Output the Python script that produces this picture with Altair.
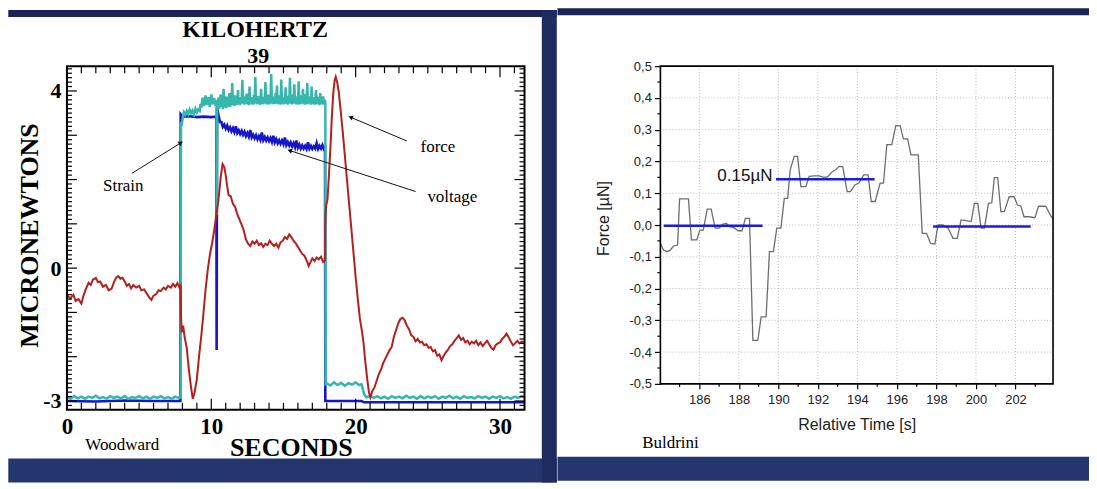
import math
import altair as alt
import pandas as pd

BG_TOP = "#1a2555"
BG_BOTTOM = "#24366e"
BG_GAP = "#1e2b60"
SERIF = "Liberation Serif"
SANS = "Liberation Sans"

# ---------------- Woodward panel (left) ----------------
force_t = [0.0, 0.25, 0.45, 0.6, 0.8, 1.0, 1.15, 1.3, 1.5, 1.65, 1.8, 2.0, 2.15, 2.3, 2.5, 2.7, 2.9, 3.1,
           3.25, 3.4, 3.55, 3.7, 3.85, 4.0, 4.15, 4.3, 4.45, 4.6, 4.8, 5.0, 5.15, 5.35, 5.5, 5.7, 5.85,
           6.0, 6.2, 6.35, 6.5, 6.7, 6.85, 7.0, 7.2, 7.35, 7.5, 7.65, 7.8, 7.88, 7.9, 7.95, 8.05, 8.15,
           8.3, 8.45, 8.6, 8.72, 8.85, 9.0, 9.15, 9.3, 9.45, 9.6, 9.75, 9.9, 10.05, 10.2, 10.35, 10.5,
           10.65, 10.78, 10.9, 11.0, 11.1, 11.2, 11.35, 11.5, 11.65, 11.8, 11.95, 12.1, 12.25, 12.4,
           12.55, 12.7, 12.85, 13.0, 13.15, 13.3, 13.45, 13.6, 13.75, 13.9, 14.05, 14.2, 14.35, 14.5,
           14.65, 14.8, 14.95, 15.1, 15.25, 15.4, 15.55, 15.7, 15.85, 16.0, 16.15, 16.3, 16.45, 16.6,
           16.75, 16.85, 17.0, 17.15, 17.3, 17.45, 17.6, 17.75, 17.88, 17.9, 17.95, 18.05, 18.15, 18.25,
           18.35, 18.45, 18.55, 18.62, 18.72, 18.82, 18.95, 19.1, 19.25, 19.4, 19.55, 19.7, 19.85, 20.0,
           20.15, 20.3, 20.45, 20.55, 20.65, 20.8, 20.92, 21.02, 21.15, 21.3, 21.45, 21.6, 21.75, 21.9,
           22.05, 22.2, 22.35, 22.5, 22.65, 22.8, 22.95, 23.1, 23.25, 23.4, 23.55, 23.7, 23.85, 24.0,
           24.15, 24.3, 24.45, 24.6, 24.75, 24.9, 25.05, 25.2, 25.35, 25.5, 25.65, 25.8, 25.95, 26.1,
           26.25, 26.4, 26.55, 26.7, 26.85, 27.0, 27.15, 27.3, 27.45, 27.6, 27.75, 27.9, 28.05, 28.2,
           28.35, 28.5, 28.65, 28.8, 28.95, 29.1, 29.25, 29.4, 29.55, 29.7, 29.85, 30.0, 30.15, 30.3,
           30.45, 30.6, 30.75, 30.9, 31.05, 31.2, 31.35, 31.5, 31.7]
force_v = [-0.62, -0.68, -0.60, -0.74, -0.70, -0.80, -0.62, -0.48, -0.33, -0.38, -0.26, -0.22, -0.32,
           -0.30, -0.42, -0.38, -0.50, -0.46, -0.32, -0.22, -0.18, -0.24, -0.22, -0.30, -0.40, -0.36,
           -0.46, -0.38, -0.44, -0.40, -0.50, -0.48, -0.56, -0.66, -0.72, -0.62, -0.58, -0.50, -0.52,
           -0.44, -0.48, -0.40, -0.44, -0.36, -0.42, -0.34, -0.44, -0.40, -1.05, -1.45, -1.30, -1.55,
           -1.80, -2.30, -2.70, -2.95, -2.80, -2.50, -2.00, -1.55, -1.05, -0.50, -0.05, 0.30, 0.55,
           0.85, 1.20, 1.55, 2.05, 2.35, 2.28, 2.10, 1.85, 1.65, 1.62, 1.45, 1.38, 1.22, 1.10, 0.98,
           0.85, 0.65, 0.55, 0.50, 0.60, 0.55, 0.62, 0.52, 0.56, 0.48, 0.55, 0.52, 0.62, 0.55, 0.50,
           0.55, 0.46, 0.58, 0.62, 0.70, 0.66, 0.76, 0.70, 0.62, 0.56, 0.48, 0.40, 0.32, 0.28, 0.18,
           0.05, 0.12, 0.22, 0.16, 0.24, 0.20, 0.26, 0.14, 0.18, 1.05, 1.40, 1.55, 2.10, 2.70, 3.40,
           3.95, 4.25, 4.32, 4.20, 4.00, 3.60, 3.10, 2.55, 2.00, 1.45, 0.90, 0.35, -0.20, -0.70, -1.15,
           -1.45, -1.70, -2.05, -2.50, -2.80, -2.92, -2.78, -2.70, -2.55, -2.40, -2.30, -2.15, -2.05,
           -1.95, -1.85, -1.78, -1.55, -1.40, -1.25, -1.15, -1.12, -1.18, -1.30, -1.38, -1.52, -1.55,
           -1.65, -1.60, -1.68, -1.66, -1.74, -1.72, -1.80, -1.78, -1.88, -1.85, -1.98, -1.95, -2.08,
           -1.98, -1.90, -1.84, -1.76, -1.72, -1.64, -1.58, -1.52, -1.62, -1.58, -1.68, -1.64, -1.72,
           -1.66, -1.70, -1.64, -1.74, -1.68, -1.76, -1.70, -1.64, -1.72, -1.80, -1.84, -1.74, -1.70,
           -1.68, -1.60, -1.55, -1.48, -1.56, -1.66, -1.74, -1.70, -1.64, -1.70, -1.66, -1.68]

# voltage (blue)
voltage_head_t = [0.0, 2.0, 4.0, 6.0, 7.86, 7.88, 8.0, 8.5, 9.0, 9.5, 10.0, 10.35, 10.37, 10.4]
voltage_head_v = [-3.0, -3.01, -2.99, -3.0, -3.0, 3.47, 3.42, 3.43, 3.41, 3.42, 3.41, 3.42, -1.85, 3.62]
voltage_decay_v = [3.45, 3.30, 3.30, 3.19, 3.24, 3.15, 3.22, 3.12, 3.18, 3.09,
                   3.16, 3.07, 3.20, 3.05, 3.11, 3.03, 3.10, 3.01, 3.08, 2.98,
                   3.05, 2.97, 3.12, 2.95, 3.01, 2.93, 3.00, 2.91, 2.98, 2.90,
                   3.06, 2.89, 2.96, 2.88, 2.95, 2.87, 2.94, 2.85, 2.99, 2.84,
                   2.91, 2.82, 2.89, 2.81, 2.88, 2.80, 2.95, 2.78, 2.85, 2.77,
                   2.84, 2.75, 2.82, 2.73, 2.88, 2.72, 2.79, 2.70, 2.77, 2.70,
                   2.76, 2.69, 2.84, 2.70, 2.76, 2.69, 2.75, 2.70, 2.82, 2.69,
                   2.76, 2.70, 2.78, 2.69]
voltage_decay_t = [round(10.5 + 0.1 * i, 2) for i in range(len(voltage_decay_v))]
voltage_tail_t = [17.88, 17.9, 20.4, 20.6, 31.7]
voltage_tail_v = [2.72, -3.0, -3.0, -3.03, -3.03]

# strain (teal): before switch-on
strain_pre_t = [0.0, 0.25, 0.5, 0.75, 1.0, 1.25, 1.5, 1.75, 2.0, 2.25, 2.5, 2.75, 3.0, 3.25, 3.5, 3.75,
                4.0, 4.25, 4.5, 4.75, 5.0, 5.25, 5.5, 5.75, 6.0, 6.25, 6.5, 6.75, 7.0, 7.25, 7.5, 7.75,
                7.88]
strain_pre_v = [-2.91, -2.95, -2.89, -2.94, -2.90, -2.95, -2.90, -2.93, -2.88, -2.94, -2.91, -2.95,
                -2.89, -2.93, -2.90, -2.94, -2.89, -2.95, -2.91, -2.93, -2.89, -2.94, -2.90, -2.95,
                -2.90, -2.93, -2.89, -2.94, -2.91, -2.95, -2.90, -2.93, -2.92]
# strain: switched on, up to the drop-out
strain_on_t = [7.9, 7.95, 8.0, 8.05, 8.1, 8.2, 8.3, 8.4, 8.5, 8.6, 8.7, 8.8, 8.9, 9.0, 9.1, 9.2, 9.25,
               9.3, 9.4, 9.5, 9.6, 9.7, 9.8, 9.9, 10.0, 10.1, 10.2, 10.3, 10.36, 10.38, 10.41]
strain_on_v = [3.30, 3.22, 3.35, 3.45, 3.52, 3.46, 3.55, 3.48, 3.58, 3.50, 3.56, 3.47, 3.60, 3.52, 3.58,
               3.55, 3.70, 3.62, 3.85, 3.66, 3.90, 3.68, 3.86, 3.64, 3.92, 3.70, 3.84, 3.66, 3.80,
               1.20, 3.60]
# strain: noisy plateau after the drop-out (sampled every 0.05 s from 10.45 s)
strain_plateau_v = [3.62, 3.85, 3.60, 3.78, 3.92, 3.64, 3.82, 3.59, 4.05, 3.66, 3.80, 3.61, 3.88, 3.63, 3.76,
                    3.65, 3.95, 3.64, 3.84, 3.67, 4.18, 3.70, 3.82, 3.66, 3.90, 3.68, 3.79, 3.69, 4.02, 3.70,
                    3.86, 3.68, 3.81, 3.71, 4.25, 3.72, 3.88, 3.69, 3.83, 3.70, 3.94, 3.71, 3.80, 3.68, 4.10,
                    3.72, 3.86, 3.70, 3.82, 3.69, 3.91, 3.71, 4.32, 3.73, 3.84, 3.70, 3.89, 3.72, 3.80, 3.69,
                    4.05, 3.71, 3.87, 3.70, 3.83, 3.72, 4.20, 3.71, 3.85, 3.69, 3.92, 3.72, 3.81, 3.70, 4.38,
                    3.73, 3.88, 3.70, 3.82, 3.71, 3.95, 3.72, 4.12, 3.70, 3.84, 3.71, 3.90, 3.69, 4.26, 3.72,
                    3.86, 3.70, 3.81, 3.72, 4.08, 3.71, 3.89, 3.69, 3.83, 3.72, 4.30, 3.71, 3.86, 3.70, 3.92,
                    3.71, 4.15, 3.72, 3.84, 3.70, 3.88, 3.69, 4.22, 3.71, 3.82, 3.70, 3.90, 3.72, 4.05, 3.70,
                    3.85, 3.69, 3.93, 3.71, 4.18, 3.70, 3.83, 3.72, 3.88, 3.69, 4.10, 3.71, 3.86, 3.70, 3.82,
                    3.69, 4.02, 3.71, 3.87, 3.70, 3.84, 3.68, 3.95, 3.71, 3.82, 3.70, 3.88, 3.69, 3.80]
strain_plateau_t = [round(10.45 + 0.05 * i, 2) for i in range(len(strain_plateau_v))]
# strain: after switch-off
strain_post_t = [17.9, 17.92, 18.0, 18.25, 18.5, 18.75, 19.0, 19.25, 19.5, 19.75, 20.0, 20.25, 20.4,
                 20.6, 20.75, 21.0, 21.25, 21.5, 21.75, 22.0, 22.25, 22.5, 22.75, 23.0, 23.25, 23.5,
                 23.75, 24.0, 24.25, 24.5, 24.75, 25.0, 25.25, 25.5, 25.75, 26.0, 26.25, 26.5, 26.75,
                 27.0, 27.25, 27.5, 27.75, 28.0, 28.25, 28.5, 28.75, 29.0, 29.25, 29.5, 29.75, 30.0,
                 30.25, 30.5, 30.75, 31.0, 31.25, 31.5, 31.7]
strain_post_v = [3.75, -2.62, -2.60, -2.65, -2.58, -2.64, -2.59, -2.66, -2.60, -2.63, -2.58, -2.64,
                 -2.62, -2.85, -2.92, -2.88, -2.93, -2.89, -2.94, -2.90, -2.95, -2.89, -2.93, -2.90,
                 -2.94, -2.88, -2.93, -2.90, -2.95, -2.89, -2.94, -2.90, -2.93, -2.89, -2.95, -2.90,
                 -2.93, -2.88, -2.94, -2.90, -2.95, -2.89, -2.93, -2.91, -2.94, -2.89, -2.93, -2.90,
                 -2.95, -2.90, -2.93, -2.89, -2.94, -2.91, -2.95, -2.90, -2.93, -2.89, -2.92]

left_xticks = [0, 10, 20, 30]
left_yticks = [-3, 0, 4]

ann_text = ["Strain", "force", "voltage"]
ann_t = [3.9, 25.7, 26.7]
ann_v = [1.85, 2.74, 1.61]
arrow_t0 = [4.5, 23.55, 24.15]
arrow_v0 = [2.14, 2.87, 1.73]
arrow_t1 = [7.85, 19.7, 15.48]
arrow_v1 = [2.82, 3.40, 2.65]

# ---------------- Buldrini panel (right) ----------------
bul_t = [184.03, 184.19, 184.36, 184.53, 184.69, 184.9, 185.0, 185.45, 185.6, 185.87, 186.03, 186.2,
         186.4, 186.6, 186.8, 187.0, 187.2, 187.37, 187.54, 187.79, 187.96, 188.16, 188.33, 188.54,
         188.71, 188.96, 189.13, 189.38, 189.55, 189.75, 189.92, 190.13, 190.3, 190.47, 190.6, 190.8,
         190.97, 191.14, 191.39, 191.56, 191.81, 192.06, 192.26, 192.48, 192.73, 192.9, 193.06,
         193.26, 193.48, 193.65, 193.87, 194.07, 194.32, 194.54, 194.7, 194.9, 195.15, 195.32,
         195.49, 195.74, 195.94, 196.16, 196.33, 196.54, 196.71, 197.08, 197.28, 197.5, 197.7,
         197.92, 198.08, 198.33, 198.59, 198.84, 199.05, 199.25, 199.5, 199.76, 199.92, 200.09,
         200.26, 200.43, 200.63, 200.8, 200.93, 201.1, 201.26, 201.43, 201.68, 201.93, 202.1,
         202.27, 202.43, 202.68, 202.98, 203.17, 203.53, 203.79, 203.9]
bul_v = [-0.058, -0.079, -0.084, -0.079, -0.066, -0.063, 0.082, 0.082, -0.047, -0.047, -0.016, -0.016,
         0.05, 0.05, -0.01, -0.01, 0.003, 0.005, -0.005, -0.01, -0.018, -0.018, 0.021, 0.021, -0.363,
         -0.363, -0.289, -0.289, -0.084, -0.084, -0.01, -0.01, 0.084, 0.084, 0.174, 0.216, 0.216,
         0.121, 0.121, 0.153, 0.155, 0.155, 0.151, 0.151, 0.168, 0.174, 0.184, 0.184, 0.105, 0.105,
         0.126, 0.132, 0.158, 0.158, 0.074, 0.074, 0.132, 0.132, 0.253, 0.253, 0.313, 0.313, 0.271,
         0.271, 0.221, 0.221, -0.026, -0.026, -0.058, -0.06, 0.0, 0.0, -0.01, -0.042, -0.042, 0.016,
         0.014, 0.011, 0.068, 0.068, -0.01, -0.01, 0.068, 0.07, 0.149, 0.149, 0.042, 0.042, 0.089,
         0.089, 0.063, 0.06, 0.026, 0.026, 0.023, 0.059, 0.059, 0.028, 0.02]
mean_t0 = [184.2, 189.88, 197.83]
mean_t1 = [189.2, 194.87, 202.77]
mean_v = [-0.002, 0.144, -0.005]
mean_label = "0.15µN"
mean_label_t = 189.7
mean_label_v = 0.155
right_xticks = [186, 188, 190, 192, 194, 196, 198, 200, 202]
right_yticks = [-0.5, -0.4, -0.3, -0.2, -0.1, 0.0, 0.1, 0.2, 0.3, 0.4, 0.5]

one = pd.DataFrame({"a": [0]})


def band(x0, x1, y0, y1, color):
    return alt.Chart(one).mark_rect(color=color).encode(
        x=alt.value(x0), x2=alt.value(x1), y=alt.value(y0), y2=alt.value(y1))


# ======================= left chart =======================
LW, LH = 458, 344
LX = [0, 31.7]
LY = [-3.2, 4.56]
xs = alt.Scale(domain=LX, nice=False, zero=False)
ys = alt.Scale(domain=LY, nice=False, zero=False)

x_axis_l = alt.Axis(values=left_xticks, format="d", title="SECONDS", labelFont=SERIF, labelFontSize=23,
                    labelFontWeight="bold", labelColor="black", labelPadding=6, labelFlush=False,
                    labelOverlap=False, ticks=False, domain=False, grid=False, titleFont=SERIF,
                    titleFontSize=26, titleFontWeight="bold", titleColor="black", titleX=224, titleY=38,
                    titleBaseline="middle")
y_axis_l = alt.Axis(values=left_yticks, labelExpr="toString(datum.value)", title="MICRONEWTONS",
                    labelFont=SERIF, labelFontSize=22, labelFontWeight="bold", labelColor="black",
                    labelPadding=6, labelOverlap=False, ticks=False, domain=False, grid=False,
                    titleFont=SERIF, titleFontSize=26, titleFontWeight="bold", titleColor="black",
                    titleAngle=270, titleX=-37, titleY=169, titleAlign="center", titleBaseline="middle")


def LXe(field):
    return alt.X(field, scale=xs, axis=x_axis_l)


def LYe(field):
    return alt.Y(field, scale=ys, axis=y_axis_l)


df_volt = pd.DataFrame({"t": voltage_head_t + voltage_decay_t + voltage_tail_t,
                        "v": voltage_head_v + voltage_decay_v + voltage_tail_v})
df_strain = pd.DataFrame({"t": strain_pre_t + strain_on_t + strain_plateau_t + strain_post_t,
                          "v": strain_pre_v + strain_on_v + strain_plateau_v + strain_post_v})
df_force = pd.DataFrame({"t": force_t, "v": force_v})

volt = alt.Chart(df_volt).mark_line(color="#1616c8", strokeWidth=2.6).encode(x=LXe("t:Q"), y=LYe("v:Q"))
strain = alt.Chart(df_strain).mark_line(color="#36b6ad", strokeWidth=2.5).encode(x=LXe("t:Q"), y=LYe("v:Q"))
force = alt.Chart(df_force).mark_line(color="#b3201f", strokeWidth=2).encode(x=LXe("t:Q"), y=LYe("v:Q"))

# inner tick marks
sec_minor = pd.DataFrame({"t": [s for s in range(1, 32) if s % 10 != 0]})
sec_major = pd.DataFrame({"t": [10, 20, 30]})
yv = [round(-3.1 + 0.1 * i, 1) for i in range(77)]
val_minor = pd.DataFrame({"v": [v for v in yv if abs(v - round(v)) > 1e-6]})
val_major = pd.DataFrame({"v": [-3, -2, -1, 0, 1, 2, 3, 4]})


def xticks(df, ln):
    b = alt.Chart(df).mark_rule(color="black", strokeWidth=1.2).encode(
        x=LXe("t:Q"), y=alt.value(LH), y2=alt.value(LH - ln))
    t = alt.Chart(df).mark_rule(color="black", strokeWidth=1.2).encode(
        x=LXe("t:Q"), y=alt.value(0), y2=alt.value(ln))
    return [b, t]


def yticks(df, ln):
    l = alt.Chart(df).mark_rule(color="black", strokeWidth=1.2).encode(
        y=LYe("v:Q"), x=alt.value(0), x2=alt.value(ln))
    r = alt.Chart(df).mark_rule(color="black", strokeWidth=1.2).encode(
        y=LYe("v:Q"), x=alt.value(LW), x2=alt.value(LW - ln))
    return [l, r]


tick_layers = xticks(sec_minor, 7) + xticks(sec_major, 11) + yticks(val_minor, 5) + yticks(val_major, 10)

# annotations
pxx = LW / (LX[1] - LX[0])
pxy = LH / (LY[1] - LY[0])
angles = []
for a0, b0, a1, b1 in zip(arrow_t0, arrow_v0, arrow_t1, arrow_v1):
    dx = (a1 - a0) * pxx
    dy = -(b1 - b0) * pxy
    angles.append((math.degrees(math.atan2(dx, -dy)) + 360) % 360)
df_arrow = pd.DataFrame({"t": arrow_t0, "v": arrow_v0, "t1": arrow_t1, "v1": arrow_v1, "ang": angles})
df_head = pd.DataFrame({"t": arrow_t1, "v": arrow_v1, "ang": angles})
df_ann = pd.DataFrame({"t": ann_t, "v": ann_v, "label": ann_text})

arrows = alt.Chart(df_arrow).mark_rule(color="#111", strokeWidth=1).encode(
    x=LXe("t:Q"), y=LYe("v:Q"), x2="t1:Q", y2="v1:Q")
heads = alt.Chart(df_head).mark_point(shape="triangle", filled=True, color="#111", size=28, opacity=1).encode(
    x=LXe("t:Q"), y=LYe("v:Q"), angle=alt.Angle("ang:Q", scale=None))
ann = alt.Chart(df_ann).mark_text(font=SERIF, fontSize=17, color="black").encode(
    x=LXe("t:Q"), y=LYe("v:Q"), text="label:N")

title1 = alt.Chart(one).mark_text(text="KILOHERTZ", font=SERIF, fontSize=24, fontWeight="bold",
                                  color="black", baseline="middle").encode(
    x=alt.value(188.3), y=alt.value(-36))
title2 = alt.Chart(one).mark_text(text="39", font=SERIF, fontSize=22, fontWeight="bold",
                                  color="black", baseline="middle").encode(
    x=alt.value(191.5), y=alt.value(-10.5))
credit_l = alt.Chart(one).mark_text(text="Woodward", font=SERIF, fontSize=17, color="black",
                                    align="left", baseline="middle").encode(
    x=alt.value(18.3), y=alt.value(379))
frame_l = alt.Chart(one).mark_rect(fillOpacity=0, stroke="black", strokeWidth=2).encode(
    x=alt.value(0), x2=alt.value(LW), y=alt.value(0), y2=alt.value(LH))

bands_l = [band(-58.7, 490.3, -56.3, -49.3, BG_TOP),
           band(-58.7, 490.3, 392.7, 416.7, BG_BOTTOM),
           band(475.3, 490.3, -56.3, 416.7, BG_GAP)]

left = alt.layer(*bands_l, volt, strain, force, *tick_layers, arrows, heads, ann, title1, title2,
                 credit_l, frame_l).properties(width=LW, height=LH)

# ======================= right chart =======================
RW, RH = 393, 318
RX = [184.03, 203.9]
RY = [-0.5, 0.5]
xr = alt.Scale(domain=RX, nice=False, zero=False)
yr = alt.Scale(domain=RY, nice=False, zero=False)

x_axis_r = alt.Axis(values=right_xticks, format="d", title="Relative Time [s]", labelFont=SANS,
                    labelFontSize=13, labelColor="#222", labelPadding=5, labelFlush=False,
                    labelOverlap=False, ticks=True, tickSize=5, tickColor="black", tickWidth=1.2,
                    domain=False, grid=False, titleFont=SANS, titleFontSize=16, titleFontWeight="normal",
                    titleColor="#222", titleX=RW / 2, titleY=41, titleBaseline="middle")
y_axis_r = alt.Axis(values=right_yticks,
                    labelExpr="(datum.value < -0.001 ? '-' : '') + replace(format(abs(datum.value), '.1f'), '.', ',')",
                    title="Force [µN]", labelFont=SANS, labelFontSize=13, labelColor="#222",
                    labelPadding=3, labelOverlap=False, ticks=True, tickSize=6, tickColor="black",
                    tickWidth=1.2, domain=False, grid=False, titleFont=SANS, titleFontSize=16,
                    titleFontWeight="normal", titleColor="#222", titleAngle=270, titleX=-57, titleY=152,
                    titleAlign="center", titleBaseline="middle")


def RXe(field):
    return alt.X(field, scale=xr, axis=x_axis_r)


def RYe(field):
    return alt.Y(field, scale=yr, axis=y_axis_r)


grid_x = alt.Chart(pd.DataFrame({"t": right_xticks})).mark_rule(
    color="#bdbdbd", strokeWidth=1, strokeDash=[1, 2]).encode(
    x=RXe("t:Q"), y=alt.value(0), y2=alt.value(RH))
grid_y = alt.Chart(pd.DataFrame({"v": right_yticks[1:-1]})).mark_rule(
    color="#bdbdbd", strokeWidth=1, strokeDash=[1, 2]).encode(
    y=RYe("v:Q"), x=alt.value(0), x2=alt.value(RW))
minor_x = alt.Chart(pd.DataFrame({"t": [185, 187, 189, 191, 193, 195, 197, 199, 201, 203]})).mark_rule(
    color="black", strokeWidth=1.2).encode(
    x=RXe("t:Q"), y=alt.value(RH), y2=alt.value(RH + 3))
minor_y = alt.Chart(pd.DataFrame({"v": [-0.45, -0.35, -0.25, -0.15, -0.05, 0.05, 0.15, 0.25, 0.35, 0.45]})).mark_rule(
    color="black", strokeWidth=1.2).encode(
    y=RYe("v:Q"), x=alt.value(-3), x2=alt.value(0))

df_bul = pd.DataFrame({"t": bul_t, "v": bul_v})
bul = alt.Chart(df_bul).mark_line(color="#6e6e6e", strokeWidth=1.3).encode(x=RXe("t:Q"), y=RYe("v:Q"))
df_mean = pd.DataFrame({"t": mean_t0, "t1": mean_t1, "v": mean_v})
means = alt.Chart(df_mean).mark_rule(color="#1c1ce0", strokeWidth=2.5).encode(
    x=RXe("t:Q"), x2="t1:Q", y=RYe("v:Q"))
df_ml = pd.DataFrame({"t": [mean_label_t], "v": [mean_label_v], "label": [mean_label]})
mlabel = alt.Chart(df_ml).mark_text(font=SANS, fontSize=17, color="#111", align="right",
                                    baseline="middle").encode(
    x=RXe("t:Q"), y=RYe("v:Q"), text="label:N")
credit_r = alt.Chart(one).mark_text(text="Buldrini", font=SERIF, fontSize=17, color="black",
                                    align="left", baseline="middle").encode(
    x=alt.value(-18.2), y=alt.value(377.3))
frame_r = alt.Chart(one).mark_rect(fillOpacity=0, stroke="black", strokeWidth=1.6).encode(
    x=alt.value(0), x2=alt.value(RW), y=alt.value(0), y2=alt.value(RH))

bands_r = [band(-103, 429, -58, -51, BG_TOP),
           band(-103, 429, 391, 415, BG_BOTTOM)]

right = alt.layer(*bands_r, grid_x, grid_y, minor_x, minor_y, bul, means, mlabel, credit_r,
                  frame_r).properties(width=RW, height=RH)

chart = alt.hconcat(left, right, spacing=0).properties(
    background="white", padding=0
).configure_view(strokeWidth=0)

chart.save("out.html", embed_options={"renderer": "svg", "actions": False})
